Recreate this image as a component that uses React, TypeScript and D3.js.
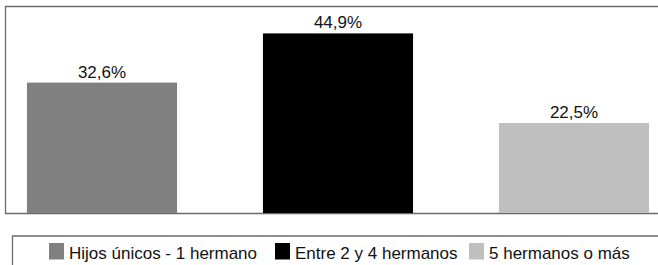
import React, { useEffect, useRef } from "react";
import * as d3 from "d3";

// categories and values
const categories = ["Hijos únicos - 1 hermano", "Entre 2 y 4 hermanos", "5 hermanos o más"];
const values = [32.6, 44.9, 22.5];
const colors = ["#808080", "#000000", "#bfbfbf"];

export default function App() {
  const ref = useRef<SVGSVGElement | null>(null);

  useEffect(() => {
    const width = 658;
    const height = 265;
    const baseline = 213;

    const svg = d3.select(ref.current);
    svg.selectAll("*").remove();
    svg.attr("width", width).attr("height", height);

    const x = d3
      .scaleBand()
      .domain(categories)
      .range([-16, 692])
      .paddingInner(0.364)
      .paddingOuter(0.182);

    const y = d3.scaleLinear().domain([0, 50]).range([baseline, baseline - 200]);

    // plot frame (right edge runs off the picture)
    svg
      .append("path")
      .attr("d", `M${width + 2},6.5 H5.5 V${baseline + 0.5} H${width + 2}`)
      .attr("fill", "none")
      .attr("stroke", "#6a6a6a")
      .attr("stroke-width", 1.3);

    const data = categories.map((c, i) => ({ c, v: values[i], color: colors[i] }));

    svg
      .append("g")
      .selectAll("rect")
      .data(data)
      .join("rect")
      .attr("x", (d) => x(d.c)!)
      .attr("y", (d) => y(d.v))
      .attr("width", x.bandwidth())
      .attr("height", (d) => baseline - y(d.v))
      .attr("fill", (d) => d.color);

    svg
      .append("g")
      .attr("font-family", "'Liberation Sans', Arial, sans-serif")
      .attr("font-size", 17)
      .attr("text-anchor", "middle")
      .attr("fill", "#111")
      .selectAll("text")
      .data(data)
      .join("text")
      .attr("x", (d) => x(d.c)! + x.bandwidth() / 2)
      .attr("y", (d) => y(d.v) - 5)
      .text((d) => d.v.toFixed(1).replace(".", ",") + "%");

    // legend box (runs off the picture to the right and bottom)
    svg
      .append("path")
      .attr("d", `M12.5,${height + 2} V236 H${width + 2}`)
      .attr("fill", "none")
      .attr("stroke", "#6a6a6a")
      .attr("stroke-width", 1.3);

    const legendX = [49, 275, 469];
    const item = svg
      .append("g")
      .selectAll("g")
      .data(data)
      .join("g")
      .attr("transform", (d, i) => `translate(${legendX[i]},243)`);

    item
      .append("rect")
      .attr("width", 15)
      .attr("height", 16.5)
      .attr("fill", (d) => d.color);

    item
      .append("text")
      .attr("x", 20)
      .attr("y", 16)
      .attr("font-family", "'Liberation Sans', Arial, sans-serif")
      .attr("font-size", 17)
      .attr("fill", "#111")
      .text((d) => d.c);
  }, []);

  return (
    <svg
      ref={ref}
      style={{ position: "absolute", left: 0, top: 0, display: "block" }}
    />
  );
}
